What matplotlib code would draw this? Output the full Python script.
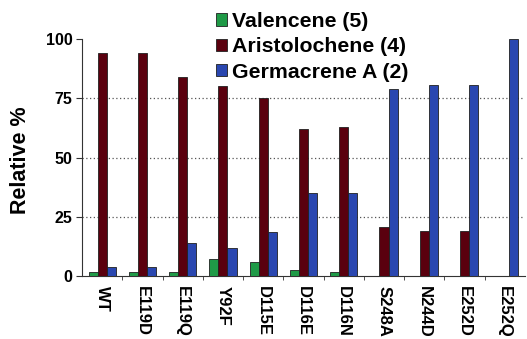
import numpy as np
import matplotlib
matplotlib.use('Agg')
import matplotlib.pyplot as plt

plt.rcParams['font.family'] = ['Liberation Sans', 'DejaVu Sans']
plt.rcParams['font.weight'] = 'bold'

# datos
mutantes = ['WT', 'E119D', 'E119Q', 'Y92F', 'D115E', 'D116E', 'D116N',
            'S248A', 'N244D', 'E252D', 'E252Q']
valenceno = [1.5, 1.5, 1.5, 7, 6, 2.5, 1.5, 0, 0, 0, 0]
aristoloqueno = [94, 94, 84, 80, 75, 62, 63, 20.5, 19, 19, 0]
germacreno = [4, 4, 14, 12, 18.5, 35, 35, 79, 80.5, 80.5, 100]
nomes = ['Valencene (5)', 'Aristolochene (4)', 'Germacrene A (2)']
cores = ['#1f9a47', '#5a000e', '#2a47b0']

fig = plt.figure(figsize=(5.27, 3.39), dpi=100)
ax = fig.add_axes([0.1556, 0.1858, 0.8404, 0.699])

x = np.arange(len(mutantes))
w = 0.225
series = [valenceno, aristoloqueno, germacreno]
for i in range(3):
    ax.bar(x + (i - 1) * w, series[i], width=w, color=cores[i],
           edgecolor='#202020', linewidth=0.6, label=nomes[i], zorder=3)

for y in [25, 50, 75]:
    ax.axhline(y, color='#555555', linestyle=(0, (1, 2)), linewidth=0.9, zorder=1)

ax.set_xlim(-0.5, len(mutantes) - 0.5)
ax.set_ylim(0, 100)
ax.set_yticks([0, 25, 50, 75, 100])
ax.set_yticklabels(['0', '25', '50', '75', '100'], fontsize=11.5, fontweight='bold')
ax.set_xticks(x)
ax.set_xticklabels(mutantes, rotation=270, fontsize=12, fontweight='bold')
ax.tick_params(axis='x', which='major', length=0, pad=7)
ax.set_xticks(x[:-1] + 0.5, minor=True)
ax.tick_params(axis='x', which='minor', length=3, direction='out', color='#333333')
ax.tick_params(axis='y', length=4, direction='out', color='#333333', pad=3)

ax.spines['top'].set_visible(False)
ax.spines['right'].set_visible(False)
ax.spines['left'].set_color('#333333')
ax.spines['bottom'].set_color('#333333')

ax.set_ylabel('Relative %', fontsize=15.5, fontweight='bold')
ax.yaxis.set_label_coords(-0.115, 0.49)

fig.legend(loc='upper left', bbox_to_anchor=(216 / 527, 1 - 12 / 339),
           frameon=False, handlelength=0.5, handleheight=0.5,
           handletextpad=0.25, labelspacing=0.3, borderpad=0, borderaxespad=0,
           prop={'weight': 'bold', 'size': 15.3})

fig.savefig('out.png', dpi=100)
